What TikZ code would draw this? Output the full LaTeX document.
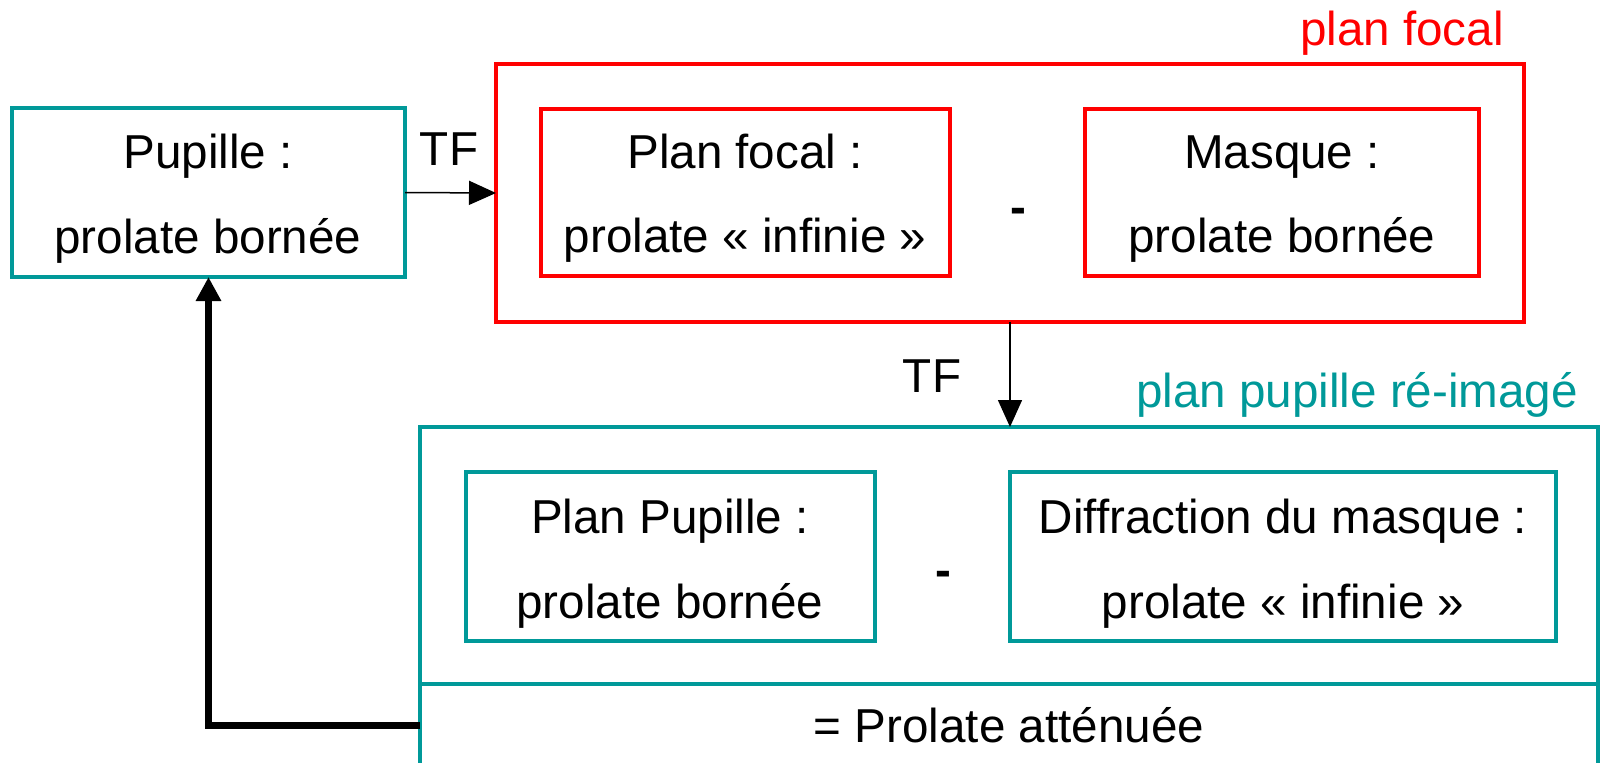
\documentclass[tikz,border=0pt]{standalone}
\usepackage{fontspec}
\setmainfont{Liberation Sans}
\usetikzlibrary{arrows.meta}
\definecolor{tealc}{HTML}{009999}
\definecolor{redc}{HTML}{FF0000}
\begin{document}
\begin{tikzpicture}[x=1pt,y=-1pt,
  box/.style={draw,line width=3.5pt,inner sep=0pt,outer sep=0pt,anchor=north west},
  tbox/.style={box,draw=tealc},
  rbox/.style={box,draw=redc},
  txt/.style={anchor=base,inner sep=0pt,font=\fontsize{47.6}{57}\selectfont},
  thinarrow/.style={line width=1.5pt,-{Triangle[length=27pt,width=24pt]}},
  fbarrow/.style={line width=7pt,-{Triangle[length=24pt,width=24pt]}}]
\useasboundingbox (0,0) rectangle (1601,763);
% boxes
\node[tbox,minimum width=393pt,minimum height=169pt] (pup) at (12,108) {};
\node[rbox,minimum width=1028pt,minimum height=258pt] (focal) at (496,64) {};
\node[rbox,minimum width=409pt,minimum height=167pt] (pf) at (541,109) {};
\node[rbox,minimum width=394pt,minimum height=167pt] (mq) at (1085,109) {};
\node[tbox,minimum width=1178pt,minimum height=257pt] (reimg) at (420,427) {};
\node[tbox,minimum width=1178pt,minimum height=82pt] (att) at (420,684) {};
\node[tbox,minimum width=409pt,minimum height=169pt] (pp) at (466,472) {};
\node[tbox,minimum width=546pt,minimum height=169pt] (dm) at (1010,472) {};
% texts
\node[txt] (pupA) at (208,168) {Pupille :};
\node[txt] (pupB) at (208,253) {prolate bornée};
\node[txt] (pfA) at (745,168) {Plan focal :};
\node[txt] (pfB) at (745,252) {prolate « infinie »};
\node[txt] (mqA) at (1282,168) {Masque :};
\node[txt] (mqB) at (1282,252) {prolate bornée};
\node[txt,font=\fontsize{47.6}{57}\selectfont\bfseries] (minus1) at (1018,223) {-};
\node[txt] (ppA) at (670,533) {Plan Pupille :};
\node[txt] (ppB) at (670,618) {prolate bornée};
\node[txt] (dmA) at (1283,533) {Diffraction du masque :};
\node[txt] (dmB) at (1283,618) {prolate « infinie »};
\node[txt,font=\fontsize{47.6}{57}\selectfont\bfseries] (minus2) at (943,586) {-};
\node[txt] (attT) at (1009,742) {= Prolate atténuée};
\node[txt] (tf1) at (449,165) {TF};
\node[txt] (tf2) at (932,392) {TF};
\node[txt,text=redc] (lfocal) at (1402,45) {plan focal};
\node[txt,text=tealc] (lreimg) at (1357,407) {plan pupille ré-imagé};
% connectors
\draw[thinarrow] (pup.east) -- (focal.west);
\draw[thinarrow] (focal.south) -- (focal.south |- reimg.north);
\draw[fbarrow] (att.west) -| (pup.south);
\end{tikzpicture}
\end{document}
